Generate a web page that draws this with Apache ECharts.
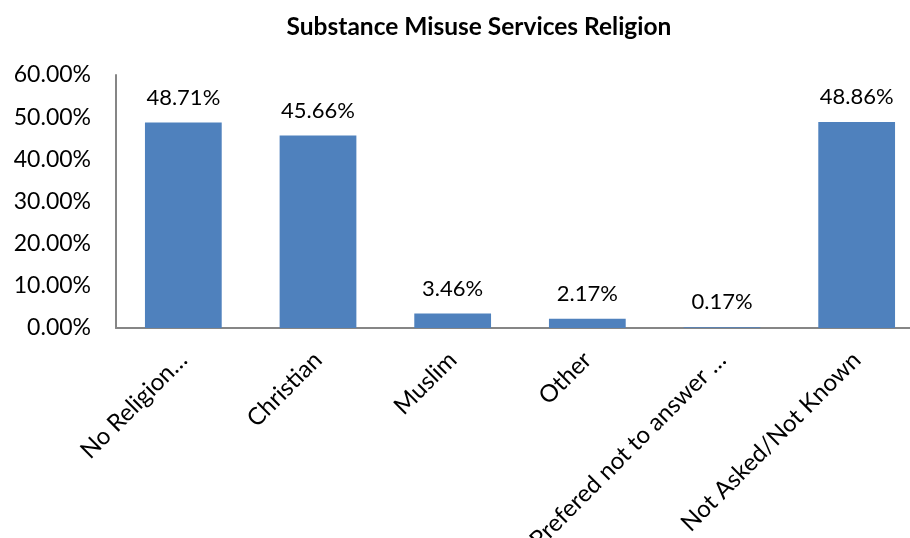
<!DOCTYPE html>
<html><head><meta charset="utf-8">
<script src="https://cdn.jsdelivr.net/npm/echarts@6/dist/echarts.min.js"></script>
<style>html,body{margin:0;padding:0;background:#fff}#c{width:910px;height:538px}</style>
</head><body><div id="c"></div>
<script>
var categories = ["No Religion…", "Christian", "Muslim", "Other", "Prefered not to answer …", "Not Asked/Not Known"];
var values = [48.71, 45.66, 3.46, 2.17, 0.17, 48.86];
var titleText = "Substance Misuse Services Religion";
var FONT = "Lato, 'Open Sans', sans-serif";
var chart = echarts.init(document.getElementById('c'));
chart.setOption({
  animation: false,
  title: {text: titleText, left: 474, top: 10, textAlign: 'center',
    textStyle: {fontFamily: FONT, fontWeight: 'bold', fontSize: 24.5, color: '#000'}},
  grid: {left: 116, top: 75, right: -14, bottom: 210, containLabel: false, outerBoundsMode: 'none'},
  xAxis: {type: 'category', data: categories,
    axisLine: {lineStyle: {color: '#868686', width: 2}},
    axisTick: {show: false},
    axisLabel: {rotate: 45, interval: 0, margin: 28, fontFamily: FONT, fontSize: 24, color: '#000'}},
  yAxis: {type: 'value', min: 0, max: 60, interval: 10,
    axisLine: {show: true, lineStyle: {color: '#868686', width: 2}},
    axisTick: {show: false},
    splitLine: {show: false},
    axisLabel: {margin: 25, fontFamily: FONT, fontSize: 23, color: '#000',
      formatter: function(v){return v.toFixed(2) + '%';}}},
  series: [{type: 'bar', data: values, barCategoryGap: '43%',
    itemStyle: {color: '#4F81BD'},
    label: {show: true, position: 'top', distance: 14, fontFamily: FONT, fontSize: 22, color: '#000',
      formatter: function(p){return p.value.toFixed(2) + '%';}}}]
});
</script></body></html>
